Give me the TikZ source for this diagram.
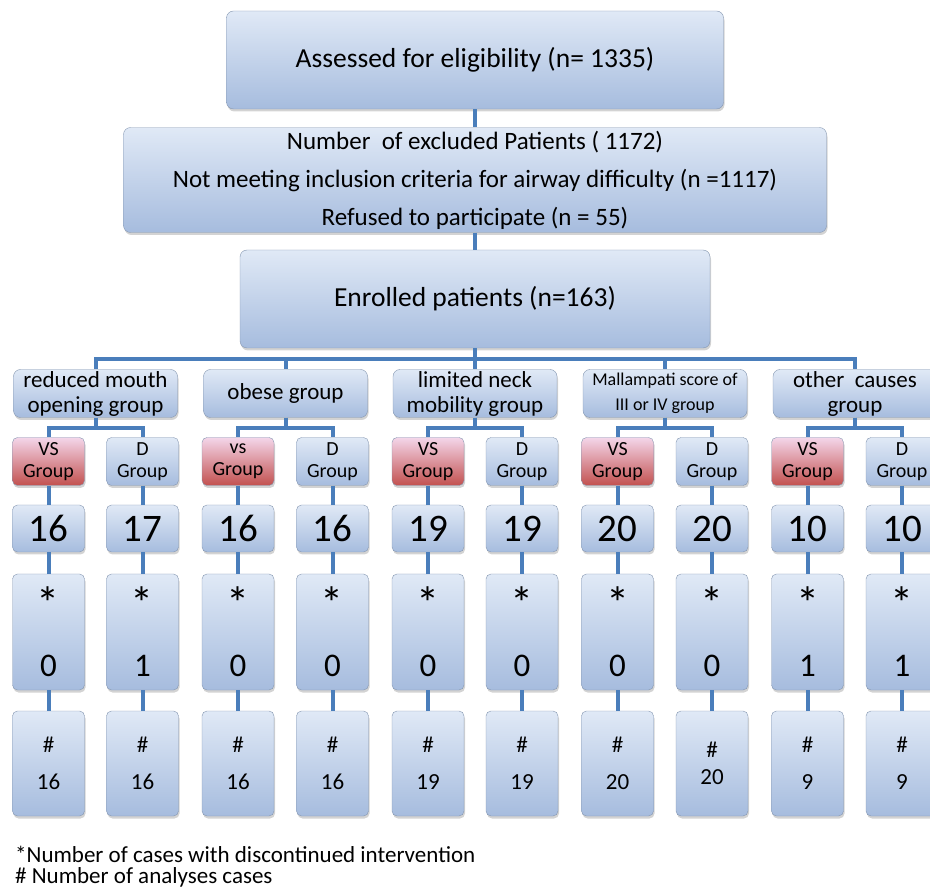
\documentclass[tikz,border=0pt]{standalone}
\usepackage{fontspec}
\setmainfont{Carlito}
\usepackage{tikz}
\usetikzlibrary{positioning,shadows}
\definecolor{boxtop}{HTML}{E0E9F6}
\definecolor{boxbottom}{HTML}{A6BCDE}
\definecolor{boxline}{HTML}{8496B0}
\definecolor{vstop}{HTML}{F4D6EA}
\definecolor{vsbottom}{HTML}{C2514F}
\definecolor{wireblue}{HTML}{4A7EBB}
\newcommand{\bigast}{\scalebox{1.4}{*}}

\tikzset{
	mainbox/.style={draw=boxline, rounded corners=7pt, top color=boxtop, bottom color=boxbottom, drop shadow={opacity=0.35, shadow xshift=1pt, shadow yshift=-2.5pt}, align=center, font=\fontsize{27.5}{30}\selectfont},
	groupbox/.style={mainbox, minimum width=164pt, minimum height=48pt, inner sep=1pt, font=\fontsize{23}{25}\selectfont},
	dbox/.style={mainbox, minimum width=72pt, minimum height=48pt, inner sep=1pt, rounded corners=5pt, font=\fontsize{20}{22}\selectfont},
	vsbox/.style={dbox, top color=vstop, bottom color=vsbottom},
	numbox/.style={mainbox, minimum width=72pt, minimum height=47pt, inner sep=0pt, rounded corners=5pt, font=\fontsize{39}{40}\selectfont},
	starbox/.style={mainbox, minimum width=72pt, minimum height=116pt, rounded corners=5pt, font=\fontsize{33}{57}\selectfont},
	hashbox/.style={mainbox, minimum width=72pt, minimum height=105pt, rounded corners=5pt, font=\fontsize{23}{37}\selectfont},
	wire/.style={draw=wireblue, line width=4pt},
	note/.style={anchor=west, inner sep=0pt, font=\fontsize{23}{25}\selectfont}
}

\begin{document}
\begin{tikzpicture}[x=1pt, y=1pt, on grid]
	\useasboundingbox (0,0) rectangle (930,-890);
	\node[mainbox, minimum width=497pt, minimum height=98pt] (A) at (475,-60) {Assessed for eligibility (n= 1335)};
	\node[mainbox, minimum width=703pt, minimum height=100pt, font=\fontsize{25}{38}\selectfont] (X) [below = 120pt of A] {Number~ of excluded Patients ( 1172)\\Not meeting inclusion criteria for airway difficulty (n =1117)\\Refused to participate (n = 55)};
	\node[mainbox, minimum width=470pt, minimum height=98pt] (E) [below = 119pt of X] {Enrolled patients (n=163)};
	
	% groups
	\node[groupbox] (G3) [below = 94.5pt of E] {limited neck\\mobility group};
	\node[groupbox] (G2) [left = 189.5pt of G3] {obese group};
	\node[groupbox] (G1) [left = 190pt of G2] {reduced mouth\\opening group};
	\node[groupbox] (G4) [right = 190pt of G3] {\fontsize{18}{20}\selectfont Mallampati score of\\\fontsize{18}{20}\selectfont III or IV group};
	\node[groupbox] (G5) [right = 190pt of G4] {other~ causes\\group};
	
	% VS / D groups
	\node[vsbox] (V1) [below left = 68pt and 47pt of G1] {VS\\Group};
	\node[dbox] (D1) [below right = 68pt and 47pt of G1] {D\\Group};
	\node[vsbox] (V2) [below left = 68pt and 47.5pt of G2] {vs\\Group};
	\node[dbox] (D2) [below right = 68pt and 47pt of G2] {D\\Group};
	\node[vsbox] (V3) [below left = 68pt and 47pt of G3] {VS\\Group};
	\node[dbox] (D3) [below right = 68pt and 47pt of G3] {D\\Group};
	\node[vsbox] (V4) [below left = 68pt and 47.5pt of G4] {VS\\Group};
	\node[dbox] (D4) [below right = 68pt and 47pt of G4] {D\\Group};
	\node[vsbox] (V5) [below left = 68pt and 47.5pt of G5] {VS\\Group};
	\node[dbox] (D5) [below right = 68pt and 47pt of G5] {D\\Group};
	
	% numbers
	\node[numbox] (NV1) [below = 67pt of V1] {16};
	\node[numbox] (ND1) [below = 67pt of D1] {17};
	\node[numbox] (NV2) [below = 67pt of V2] {16};
	\node[numbox] (ND2) [below = 67pt of D2] {16};
	\node[numbox] (NV3) [below = 67pt of V3] {19};
	\node[numbox] (ND3) [below = 67pt of D3] {19};
	\node[numbox] (NV4) [below = 67pt of V4] {20};
	\node[numbox] (ND4) [below = 67pt of D4] {20};
	\node[numbox] (NV5) [below = 67pt of V5] {10};
	\node[numbox] (ND5) [below = 67pt of D5] {10};
	
	% discontinued
	\node[starbox] (SV1) [below = 103.5pt of NV1] {\bigast\\0};
	\node[starbox] (SD1) [below = 103.5pt of ND1] {\bigast\\1};
	\node[starbox] (SV2) [below = 103.5pt of NV2] {\bigast\\0};
	\node[starbox] (SD2) [below = 103.5pt of ND2] {\bigast\\0};
	\node[starbox] (SV3) [below = 103.5pt of NV3] {\bigast\\0};
	\node[starbox] (SD3) [below = 103.5pt of ND3] {\bigast\\0};
	\node[starbox] (SV4) [below = 103.5pt of NV4] {\bigast\\0};
	\node[starbox] (SD4) [below = 103.5pt of ND4] {\bigast\\0};
	\node[starbox] (SV5) [below = 103.5pt of NV5] {\bigast\\1};
	\node[starbox] (SD5) [below = 103.5pt of ND5] {\bigast\\1};
	
	% analysed
	\node[hashbox] (HV1) [below = 131.5pt of SV1] {\#\\16};
	\node[hashbox] (HD1) [below = 131.5pt of SD1] {\#\\16};
	\node[hashbox] (HV2) [below = 131.5pt of SV2] {\#\\16};
	\node[hashbox] (HD2) [below = 131.5pt of SD2] {\#\\16};
	\node[hashbox] (HV3) [below = 131.5pt of SV3] {\#\\19};
	\node[hashbox] (HD3) [below = 131.5pt of SD3] {\#\\19};
	\node[hashbox] (HV4) [below = 131.5pt of SV4] {\#\\20};
	\node[hashbox] (HD4) [below = 131.5pt of SD4] {\#\\[-10pt]20};
	\node[hashbox] (HV5) [below = 131.5pt of SV5] {\#\\9};
	\node[hashbox] (HD5) [below = 131.5pt of SD5] {\#\\9};
	
	\node[note] (note1) at (15,-854) {*Number of cases with discontinued intervention};
	\node[note] (note2) at (15,-877) {\# Number of analyses cases};
	
	\draw[wire] (A) -- (X);
	\draw[wire] (X) -- (E);
	\draw[wire] (E.south) -- ++(0,-11) -| (G1.north);
	\draw[wire] (E.south) -- ++(0,-11) -| (G2.north);
	\draw[wire] (E.south) -- ++(0,-11) -| (G3.north);
	\draw[wire] (E.south) -- ++(0,-11) -| (G4.north);
	\draw[wire] (E.south) -- ++(0,-11) -| (G5.north);
	\draw[wire] (G1.south) -- ++(0,-10) -| (V1.north);
	\draw[wire] (G1.south) -- ++(0,-10) -| (D1.north);
	\draw[wire] (G2.south) -- ++(0,-10) -| (V2.north);
	\draw[wire] (G2.south) -- ++(0,-10) -| (D2.north);
	\draw[wire] (G3.south) -- ++(0,-10) -| (V3.north);
	\draw[wire] (G3.south) -- ++(0,-10) -| (D3.north);
	\draw[wire] (G4.south) -- ++(0,-10) -| (V4.north);
	\draw[wire] (G4.south) -- ++(0,-10) -| (D4.north);
	\draw[wire] (G5.south) -- ++(0,-10) -| (V5.north);
	\draw[wire] (G5.south) -- ++(0,-10) -| (D5.north);
	\draw[wire] (V1) -- (NV1) (NV1) -- (SV1) (SV1) -- (HV1);
	\draw[wire] (D1) -- (ND1) (ND1) -- (SD1) (SD1) -- (HD1);
	\draw[wire] (V2) -- (NV2) (NV2) -- (SV2) (SV2) -- (HV2);
	\draw[wire] (D2) -- (ND2) (ND2) -- (SD2) (SD2) -- (HD2);
	\draw[wire] (V3) -- (NV3) (NV3) -- (SV3) (SV3) -- (HV3);
	\draw[wire] (D3) -- (ND3) (ND3) -- (SD3) (SD3) -- (HD3);
	\draw[wire] (V4) -- (NV4) (NV4) -- (SV4) (SV4) -- (HV4);
	\draw[wire] (D4) -- (ND4) (ND4) -- (SD4) (SD4) -- (HD4);
	\draw[wire] (V5) -- (NV5) (NV5) -- (SV5) (SV5) -- (HV5);
	\draw[wire] (D5) -- (ND5) (ND5) -- (SD5) (SD5) -- (HD5);
\end{tikzpicture}
\end{document}
